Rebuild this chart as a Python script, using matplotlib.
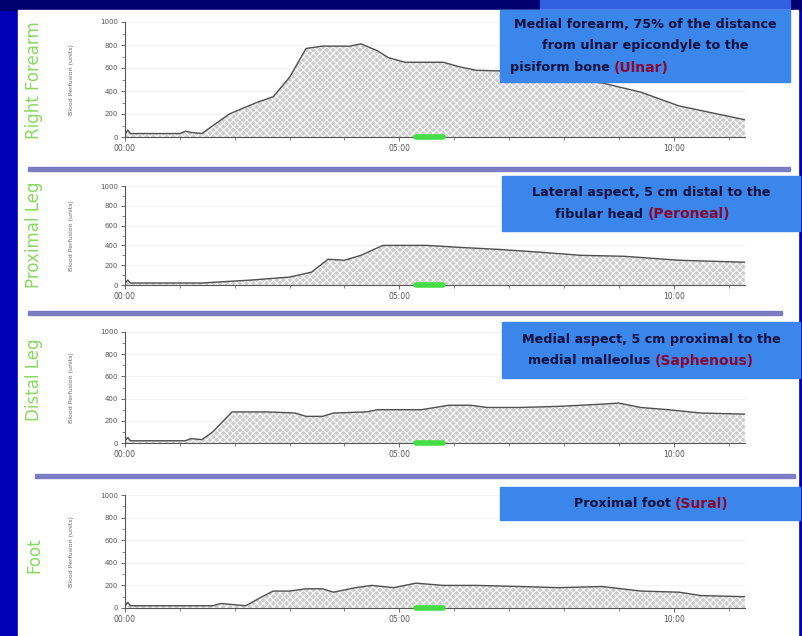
import matplotlib
matplotlib.use("Agg")
import matplotlib.pyplot as plt
from matplotlib.patches import Rectangle
import matplotlib as mpl

mpl.rcParams['hatch.color'] = 'white'
mpl.rcParams['hatch.linewidth'] = 0.7

# ---- data (time in hours, values in perfusion units) ----
t_forearm = [0, 0.05, 0.1, 1.0, 1.1, 1.2, 1.4, 1.9, 2.4, 2.7, 3.0, 3.3, 3.6, 4.1, 4.3, 4.6, 4.8, 5.1, 5.8, 6.1, 6.4, 7.2, 7.9, 8.7, 9.4, 10.1, 10.5, 11.3]
v_forearm = [20, 60, 30, 30, 50, 40, 30, 200, 300, 350, 520, 770, 790, 790, 810, 750, 690, 650, 650, 610, 580, 570, 510, 470, 390, 270, 230, 150]

t_prox = [0, 0.05, 0.1, 1.4, 2.3, 3.0, 3.4, 3.7, 4.0, 4.3, 4.7, 5.5, 6.1, 6.8, 7.6, 8.3, 9.1, 10.1, 11.3]
v_prox = [20, 50, 20, 20, 50, 80, 130, 260, 250, 300, 400, 400, 380, 360, 330, 300, 290, 250, 230]

t_dist = [0, 0.05, 0.1, 1.1, 1.2, 1.4, 1.6, 1.95, 2.6, 3.1, 3.3, 3.6, 3.8, 4.4, 4.6, 5.4, 5.9, 6.3, 6.6, 7.2, 7.9, 8.7, 9.0, 9.4, 9.9, 10.5, 11.3]
v_dist = [20, 50, 20, 20, 40, 30, 100, 280, 280, 270, 240, 240, 270, 280, 300, 300, 340, 340, 320, 320, 330, 350, 360, 320, 300, 270, 260]

t_foot = [0, 0.05, 0.1, 1.6, 1.75, 2.2, 2.5, 2.7, 3.0, 3.3, 3.6, 3.8, 4.2, 4.5, 4.9, 5.3, 5.8, 6.4, 7.2, 7.9, 8.7, 9.4, 10.1, 10.5, 11.3]
v_foot = [20, 50, 20, 20, 40, 20, 100, 150, 150, 170, 170, 140, 180, 200, 180, 220, 200, 200, 190, 180, 190, 150, 140, 110, 100]

panel_names = ["Right Forearm", "Proximal Leg", "Distal Leg", "Foot"]
y_ticks = [0, 200, 400, 600, 800, 1000]
y_ticklabels = ["0", "200", "400", "600", "800", "1000"]
x_ticks = [0, 5, 10]
x_ticklabels = ["00:00", "05:00", "10:00"]
y_label = "Blood Perfusion (units)"

notes = [
    (["Medial forearm, 75% of the distance", "from ulnar epicondyle to the"], "pisiform bone ", "(Ulnar)"),
    (["Lateral aspect, 5 cm distal to the"], "fibular head ", "(Peroneal)"),
    (["Medial aspect, 5 cm proximal to the"], "medial malleolus ", "(Saphenous)"),
    ([], "Proximal foot ", "(Sural)"),
]

series = [(t_forearm, v_forearm), (t_prox, v_prox), (t_dist, v_dist), (t_foot, v_foot)]

W, H = 802, 636
fig = plt.figure(figsize=(W / 100, H / 100), dpi=100)
fig.patch.set_facecolor('#0000b8')

# background overlay (pixel coordinates)
bg = fig.add_axes([0, 0, 1, 1], zorder=0)
bg.set_xlim(0, W); bg.set_ylim(H, 0); bg.axis('off')
bg.add_patch(Rectangle((0, 0), W, 10, color='#000070'))
bg.add_patch(Rectangle((540, 0), 250, 10, color='#3060e0'))
bg.add_patch(Rectangle((18, 10), 780, 626, color='white'))
for (x0, x1, y) in [(28, 790, 169), (28, 782, 313), (35, 795, 476)]:
    bg.add_patch(Rectangle((x0, y - 2), x1 - x0, 4, color='#7c7cc4'))

# panel geometry: (y pixel of 0, y pixel of 1000)
geo = [(137, 22), (285, 186), (443, 332), (608, 495)]
label_y = [80, 235, 380, 555]
x_left, x_right = 125, 745
t_max = 11.3

for i, ((t, v), (y0, y1)) in enumerate(zip(series, geo)):
    ax = fig.add_axes([x_left / W, 1 - y0 / H, (x_right - x_left) / W, (y0 - y1) / H], zorder=2)
    ax.patch.set_alpha(0)
    ax.fill_between(t, v, 0, facecolor='#cdcdcd', hatch='xxxxx', edgecolor='white', linewidth=0)
    ax.plot(t, v, color='#505050', lw=1.0)
    ax.set_xlim(0, t_max)
    ax.set_ylim(0, 1000)
    ax.set_yticks(y_ticks)
    ax.set_yticklabels(y_ticklabels, fontsize=5, color='#555555')
    ax.set_yticks(range(100, 1000, 200), minor=True)
    ax.set_xticks(x_ticks)
    ax.set_xticklabels(x_ticklabels, fontsize=5.5, color='#555555')
    ax.set_xticks([1, 2, 3, 4, 6, 7, 8, 9, 11], minor=True)
    ax.tick_params(axis='both', which='major', length=3, width=0.6, color='#555555', pad=2)
    ax.tick_params(axis='both', which='minor', length=2, width=0.5, color='#555555')
    for s in ['top', 'right']:
        ax.spines[s].set_visible(False)
    for s in ['left', 'bottom']:
        ax.spines[s].set_color('#555555')
        ax.spines[s].set_linewidth(0.8)
    ax.grid(axis='y', color='#eeeeee', lw=0.5)
    ax.set_axisbelow(True)
    # green marker on the axis
    ax.plot([5.3, 5.8], [0, 0], color='#44dd44', lw=4, solid_capstyle='round', clip_on=False, zorder=5)

    bg.text(34, label_y[i], panel_names[i], rotation=90, ha='center', va='center',
            fontsize=12, color='#88d860')
    bg.text(72, (y0 + y1) / 2, y_label, rotation=90, ha='center', va='center',
            fontsize=4.5, color='#666666')

# foreground overlay with annotation boxes
fg = fig.add_axes([0, 0, 1, 1], zorder=10)
fg.set_xlim(0, W); fg.set_ylim(H, 0); fg.axis('off')
fg.patch.set_alpha(0)

boxes = [(500, 10, 290, 72), (502, 176, 298, 55), (502, 322, 298, 56), (500, 487, 300, 33)]
split_x = [614, 648, 655, 675]
for (bx, by, bw, bh), (lines, last_black, last_red), sx in zip(boxes, notes, split_x):
    fg.add_patch(Rectangle((bx, by), bw, bh, color='#3a86ea'))
    n = len(lines) + 1
    lh = 22
    ystart = by + bh / 2 - (n - 1) * lh / 2
    for k, ln in enumerate(lines):
        fg.text(bx + bw / 2, ystart + k * lh, ln, ha='center', va='center',
                fontsize=9.2, fontweight='bold', color='#101040')
    yl = ystart + (n - 1) * lh
    fg.text(sx, yl, last_black, ha='right', va='center', fontsize=9.2,
            fontweight='bold', color='#101040')
    fg.text(sx, yl, last_red, ha='left', va='center', fontsize=10,
            fontweight='bold', color='#8a0830')

fig.savefig('out.png', dpi=100, facecolor=fig.get_facecolor())
